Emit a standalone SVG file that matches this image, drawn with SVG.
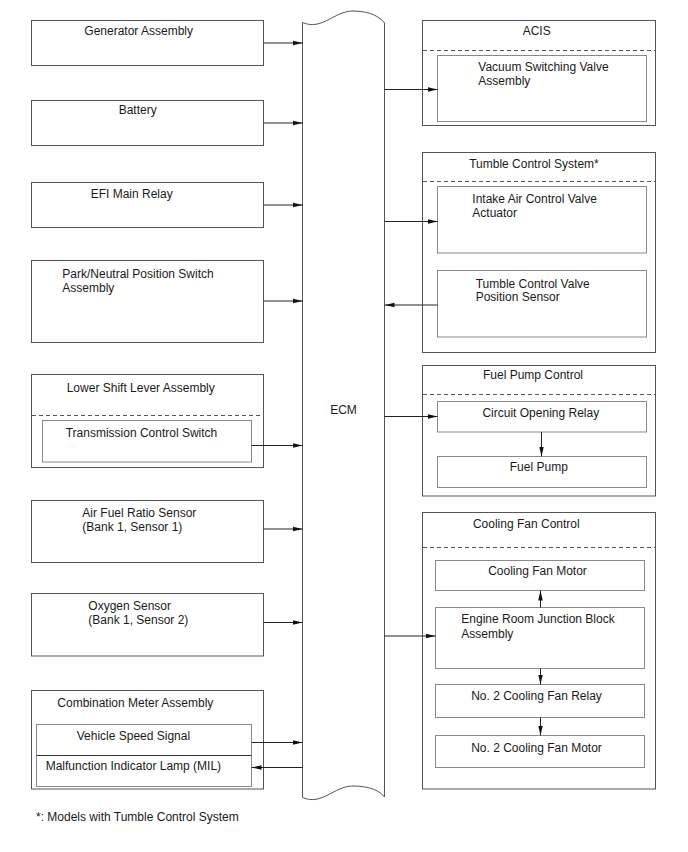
<svg xmlns="http://www.w3.org/2000/svg" width="688" height="852" viewBox="0 0 688 852">
<style>
text{font-family:"Liberation Sans",Arial,sans-serif;font-size:12px;fill:#1a1a1a}
.m{text-anchor:middle}
.ob{fill:none;stroke:#555;stroke-width:1}
.ib{fill:none;stroke:#8a8a8a;stroke-width:1}
.dash{stroke:#555;stroke-width:1;stroke-dasharray:4,3;fill:none}
.c{stroke:#222;stroke-width:1;fill:none;marker-end:url(#ah)}
</style>
<defs>
<marker id="ah" markerWidth="10" markerHeight="6" refX="10" refY="3" orient="auto" markerUnits="userSpaceOnUse"><path d="M0,0.7 L10,3 L0,5.3 z" fill="#111"/></marker>
</defs>
<rect width="688" height="852" fill="#fff"/>

<g id="ecm">
<path class="ob" d="M302.5,22.5 C322,31 334,11 353,11 C370,11 380,17 384.5,23 L384.5,797 C380,791 370,786 353,786 C334,786 322,806 302.5,797.5 Z"/>
<text class="m" x="343.5" y="413.5">ECM</text>
</g>

<g id="generator">
<rect class="ob" x="31.5" y="20.5" width="232" height="45"/>
<text x="84.3" y="35">Generator Assembly</text>
</g>
<g id="battery">
<rect class="ob" x="31.5" y="100.5" width="232" height="45"/>
<text x="118.7" y="114">Battery</text>
</g>
<g id="efi">
<rect class="ob" x="31.5" y="182.5" width="232" height="45"/>
<text x="90.7" y="197.5">EFI Main Relay</text>
</g>
<g id="pnp">
<rect class="ob" x="31.5" y="260.5" width="232" height="82"/>
<text x="62.3" y="277.5">Park/Neutral Position Switch</text>
<text x="62.3" y="291.5">Assembly</text>
</g>
<g id="shift">
<rect class="ob" x="31.5" y="374.5" width="232" height="93"/>
<text x="66.7" y="391.6">Lower Shift Lever Assembly</text>
<line class="dash" x1="32" y1="415.5" x2="263" y2="415.5"/>
<rect class="ib" x="42.5" y="420.5" width="209" height="41.5"/>
<text x="65.7" y="437">Transmission Control Switch</text>
</g>
<g id="afs">
<rect class="ob" x="31.5" y="500.5" width="232" height="62"/>
<text x="82.3" y="517">Air Fuel Ratio Sensor</text>
<text x="82.3" y="530.5">(Bank 1, Sensor 1)</text>
</g>
<g id="o2">
<rect class="ob" x="31.5" y="593.5" width="232" height="62.5"/>
<text x="88.3" y="610">Oxygen Sensor</text>
<text x="88.3" y="623.5">(Bank 1, Sensor 2)</text>
</g>
<g id="meter">
<rect class="ob" x="31.5" y="690.5" width="232" height="98.5"/>
<text x="57.3" y="706.6">Combination Meter Assembly</text>
<rect class="ib" x="36.5" y="724.5" width="215" height="62"/>
<line x1="36.5" y1="755.5" x2="251.5" y2="755.5" stroke="#333" stroke-width="1"/>
<text x="76.7" y="740">Vehicle Speed Signal</text>
<text x="45.7" y="769.6">Malfunction Indicator Lamp (MIL)</text>
</g>

<g id="acis">
<rect class="ob" x="422.5" y="20.5" width="233" height="105"/>
<text class="m" x="536.7" y="35.3">ACIS</text>
<line class="dash" x1="423" y1="50.5" x2="655" y2="50.5"/>
<rect class="ib" x="437.5" y="55.5" width="209" height="66"/>
<text x="478.3" y="71">Vacuum Switching Valve</text>
<text x="478.3" y="85.3">Assembly</text>
</g>
<g id="tumble">
<rect class="ob" x="422.5" y="152.5" width="233" height="200"/>
<text class="m" x="534" y="167.6">Tumble Control System*</text>
<line class="dash" x1="423" y1="181.5" x2="655" y2="181.5"/>
<rect class="ib" x="437.5" y="186.5" width="209" height="66.5"/>
<text x="472.3" y="202.6">Intake Air Control Valve</text>
<text x="472.3" y="216.6">Actuator</text>
<rect class="ib" x="437.5" y="270.5" width="209" height="66.5"/>
<text x="475.7" y="287.6">Tumble Control Valve</text>
<text x="475.7" y="301.3">Position Sensor</text>
</g>
<g id="fuel">
<rect class="ob" x="422.5" y="365.5" width="233" height="130.5"/>
<text class="m" x="533" y="379.3">Fuel Pump Control</text>
<line class="dash" x1="423" y1="394.5" x2="655" y2="394.5"/>
<rect class="ib" x="437.5" y="401.5" width="209" height="30.5"/>
<text class="m" x="540.8" y="416.6">Circuit Opening Relay</text>
<rect class="ib" x="437.5" y="456.5" width="209" height="31"/>
<text class="m" x="538.8" y="471">Fuel Pump</text>
</g>
<g id="cooling">
<rect class="ob" x="422.5" y="512.5" width="233" height="276.5"/>
<text class="m" x="526.3" y="528.3">Cooling Fan Control</text>
<line class="dash" x1="423" y1="547.5" x2="655" y2="547.5"/>
<rect class="ib" x="435.5" y="560.5" width="209" height="30"/>
<text class="m" x="537.5" y="575.3">Cooling Fan Motor</text>
<rect class="ib" x="435.5" y="607.5" width="209" height="61"/>
<text x="461.3" y="623.3">Engine Room Junction Block</text>
<text x="461.3" y="637.6">Assembly</text>
<rect class="ib" x="435.5" y="684.5" width="209" height="33"/>
<text class="m" x="536.5" y="700.3">No. 2 Cooling Fan Relay</text>
<rect class="ib" x="435.5" y="735.5" width="209" height="32"/>
<text class="m" x="536.5" y="751.6">No. 2 Cooling Fan Motor</text>
</g>

<g id="connectors">
<line class="c" x1="263.5" y1="43" x2="302.5" y2="43"/>
<line class="c" x1="263.5" y1="123" x2="302.5" y2="123"/>
<line class="c" x1="263.5" y1="205" x2="302.5" y2="205"/>
<line class="c" x1="263.5" y1="301" x2="302.5" y2="301"/>
<line class="c" x1="251.5" y1="445.5" x2="302.5" y2="445.5"/>
<line class="c" x1="263.5" y1="529" x2="302.5" y2="529"/>
<line class="c" x1="263.5" y1="622.5" x2="302.5" y2="622.5"/>
<line class="c" x1="251.5" y1="742.5" x2="302.5" y2="742.5"/>
<line class="c" x1="302.5" y1="767.5" x2="251.5" y2="767.5"/>
<line class="c" x1="384.5" y1="89.5" x2="437.5" y2="89.5"/>
<line class="c" x1="384.5" y1="221.5" x2="437.5" y2="221.5"/>
<line class="c" x1="437.5" y1="305" x2="384.5" y2="305"/>
<line class="c" x1="384.5" y1="416.5" x2="437.5" y2="416.5"/>
<line class="c" x1="541.5" y1="432" x2="541.5" y2="456.5"/>
<line class="c" x1="384.5" y1="636" x2="435.5" y2="636"/>
<line class="c" x1="540.5" y1="607.5" x2="540.5" y2="590.5"/>
<line class="c" x1="540.5" y1="668.5" x2="540.5" y2="684.5"/>
<line class="c" x1="540.5" y1="717.5" x2="540.5" y2="735.5"/>
</g>

<text x="36" y="821">*: Models with Tumble Control System</text>
</svg>
